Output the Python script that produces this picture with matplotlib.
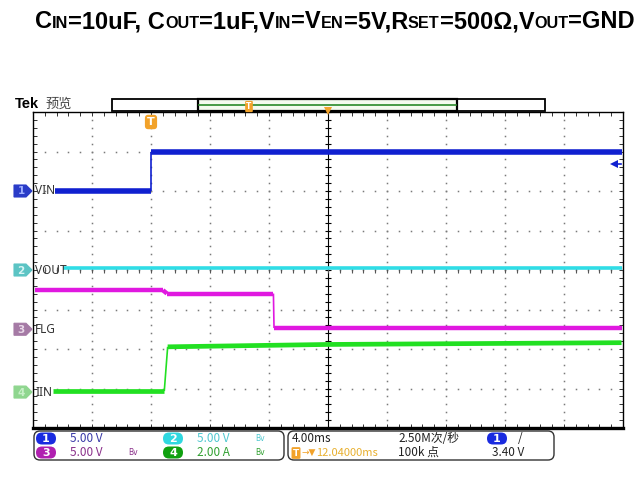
import matplotlib
matplotlib.use('Agg')
import matplotlib.pyplot as plt
import numpy as np
from matplotlib.patches import Polygon, FancyBboxPatch, Rectangle
from matplotlib.collections import LineCollection

plt.rcParams['font.family'] = ['DejaVu Sans', 'Noto Sans CJK SC']

# ---------------- data (time in ms relative to trigger) ----------------
vin_t = [-6.5, 0.0, 0.0, 31.9]
vin_v = [0.0, 0.0, 4.95, 4.95]
vout_t = [-6.0, 31.9]
vout_v = [0.2, 0.2]
flg_t = [-7.86, 0.81, 1.08, 8.30, 8.34, 31.9]
flg_v = [4.94, 4.94, 4.52, 4.52, 0.15, 0.15]
iin_t = [-6.64, 0.90, 1.13, 12.0, 31.9]
iin_a = [0.05, 0.05, 2.29, 2.41, 2.50]

channel_names = ['VIN', 'VOUT', 'FLG', 'IIN']
channel_nums = ['1', '2', '3', '4']
channel_scale = [5.0, 5.0, 5.0, 2.0]         # units per division
channel_offset = [2.0, 0.0, -1.5, -3.09]     # ground position in divisions
scale_labels = ['5.00 V', '5.00 V', '5.00 V', '2.00 A']
time_per_div = '4.00ms'
sample_rate = '2.50M次/秒'
record_len = '100k 点'
trig_delay = '12.04000ms'
trig_level = '3.40 V'

trace_colors = ['#1020d0', '#30dde6', '#e018e0', '#22e022']
trace_lw = [4.0, 2.6, 3.2, 3.4]
marker_colors = ['#2a3cc8', '#5cc4c4', '#a57aa5', '#8fd68f']
marker_txt = ['#9fb0ff', '#d8f4f4', '#e8d8e8', '#c8f0c8']
info_colors = ['#3a3aa8', '#50c8d0', '#8a308a', '#30a030']
info_badge = ['#1a2be0', '#30d8e0', '#b020b0', '#10a010']
ORANGE = '#f2a22a'
INFO_FONT = ['Noto Sans CJK SC', 'DejaVu Sans']

W, H = 642, 480
fig = plt.figure(figsize=(W / 100, H / 100), dpi=100)

# graticule in pixel space
L, R, T, B = 33, 623, 112, 428
ax = fig.add_axes([L / W, 1 - B / H, (R - L) / W, (B - T) / H])
ax.set_xlim(-8, 32)
ax.set_ylim(-4, 4)
ax.set_facecolor('white')

# dotted grid
minor_x = np.arange(-8, 32.01, 0.8)
minor_y = np.arange(-4, 4.01, 0.2)
for gx in np.arange(-4, 32, 4):
    if abs(gx - 12) < 1e-6:
        continue
    ax.plot(np.full_like(minor_y, gx), minor_y, ls='none', marker='s', ms=1.1,
            color='#7a7a7a', mew=0)
for gy in np.arange(-3, 4, 1):
    ax.plot(minor_x, np.full_like(minor_x, gy), ls='none', marker='s', ms=1.1,
            color='#7a7a7a', mew=0)
# center cross with ticks
ax.axvline(12, color='black', lw=0.8)
ax.plot(np.full_like(minor_y, 12), minor_y, ls='none', marker='_', ms=5,
        color='black', mew=0.8)
ax.plot(minor_x, np.zeros_like(minor_x), ls='none', marker='|', ms=5,
        color='#555555', mew=0.8)

ax.set_xticks(np.arange(-8, 33, 4))
ax.set_yticks(np.arange(-4, 5, 1))
ax.set_xticks(minor_x, minor=True)
ax.set_yticks(minor_y, minor=True)
ax.tick_params(which='both', direction='in', top=True, right=True,
               labelbottom=False, labelleft=False, length=3, width=0.7,
               color='#333333')
for s in ax.spines.values():
    s.set_color('black')
    s.set_linewidth(1.0)
ax.spines['bottom'].set_linewidth(2.4)

# traces
traces = [(vin_t, vin_v), (vout_t, vout_v), (flg_t, flg_v), (iin_t, iin_a)]
for k, (tt, vv) in enumerate(traces):
    tt = np.asarray(tt, float)
    yy = np.asarray(vv, float) / channel_scale[k] + channel_offset[k]
    segs, lws = [], []
    for i in range(len(tt) - 1):
        segs.append([(tt[i], yy[i]), (tt[i + 1], yy[i + 1])])
        dt = tt[i + 1] - tt[i]
        dy = abs(yy[i + 1] - yy[i])
        steep = dy > 0.3 and dt < 0.5
        lws.append(1.2 if steep else trace_lw[k])
    lc = LineCollection(segs, colors=trace_colors[k], linewidths=lws,
                        capstyle='butt', zorder=3)
    ax.add_collection(lc)

# overlay in pixel coordinates
ov = fig.add_axes([0, 0, 1, 1], zorder=5)
ov.set_xlim(0, W)
ov.set_ylim(H, 0)
ov.axis('off')
ov.patch.set_alpha(0)

# title
pieces = [("C", 0), ("IN", 1), ("=10uF, C", 0), ("OUT", 1), ("=1uF,V", 0),
          ("IN", 1), ("=V", 0), ("EN", 1), ("=5V,R", 0), ("SET", 1),
          ("=500Ω,V", 0), ("OUT", 1), ("=GND", 0)]
big, small = 16.0, 11.0
renderer = fig.canvas.get_renderer()
def draw_title(sc, x0):
    x = x0
    arts = []
    for txt, sub in pieces:
        t = ov.text(x, 28, txt, fontsize=(small if sub else big) * sc,
                    fontweight='bold', family='Liberation Sans',
                    va='baseline', ha='left', color='black')
        bb = t.get_window_extent(renderer)
        x += bb.width
        arts.append(t)
    return x - x0, arts
wid, arts = draw_title(1.0, 35)
for a in arts:
    a.remove()
sc = 597 / wid
draw_title(sc, 35)

# Tek header
ov.text(15, 104, 'Tek', fontsize=10.5, fontweight='bold', va='center',
        family='Liberation Sans', color='black')
ov.text(46, 104, '预览', fontsize=9.5, va='center', color='#444444',
        family=['Noto Sans CJK SC'])

# record view bar
ov.add_patch(Rectangle((112, 99), 433, 12, fill=False, ec='black', lw=1.3))
ov.add_patch(Rectangle((198, 99), 259, 12, fc='#f4fbf0', ec='black', lw=1.6))
ov.plot([199, 456], [105, 105], color='#2a8a2a', lw=1.2)
ov.text(249, 106.5, 'T', fontsize=5.5, color='white', ha='center', va='center',
        fontweight='bold',
        bbox=dict(boxstyle='round,pad=0.15', fc=ORANGE, ec='none'))
ov.plot([328], [111], marker='v', color=ORANGE, ms=6, mew=0)
# trigger position marker on graticule
ov.text(151, 122, 'T', fontsize=8, color='white', ha='center', va='center',
        fontweight='bold',
        bbox=dict(boxstyle='round,pad=0.2,rounding_size=0.3', fc=ORANGE,
                  ec='none'))
# trigger level arrow
ov.plot([614], [164], marker='<', color='#1020d0', ms=6, mew=0)
ov.plot([614, 621], [164, 164], color='#1020d0', lw=1.2)

# channel markers and labels
ground_px = [T + (4 - o) * (B - T) / 8 for o in channel_offset]
for k in range(4):
    y = ground_px[k]
    x0 = 14
    ov.add_patch(Polygon([(x0, y - 6), (x0 + 12, y - 6), (x0 + 18, y),
                          (x0 + 12, y + 6), (x0, y + 6)], closed=True,
                         fc=marker_colors[k], ec=marker_colors[k], lw=0.8))
    ov.text(x0 + 7, y + 0.5, channel_nums[k], fontsize=7.5, color=marker_txt[k],
            ha='center', va='center', fontweight='bold')
    ov.text(35, y, channel_names[k], fontsize=8.5, color='#333333',
            ha='left', va='center', family='Noto Sans')

# bottom info panels
ov.add_patch(FancyBboxPatch((34, 431), 250, 29,
                            boxstyle='round,pad=0,rounding_size=6',
                            fc='white', ec='#333333', lw=1.0))
ov.add_patch(FancyBboxPatch((288, 431), 266, 29,
                            boxstyle='round,pad=0,rounding_size=6',
                            fc='white', ec='#333333', lw=1.0))
rows = [438.5, 452.5]
pos = [(46, 0), (173, 0), (46, 1), (173, 1)]
FS = 8.5
for k in range(4):
    bx, r = pos[k]
    y = rows[r]
    ov.add_patch(FancyBboxPatch((bx - 10, y - 6), 20, 12,
                                boxstyle='round,pad=0,rounding_size=6',
                                fc=info_badge[k], ec='none'))
    ov.text(bx, y + 0.5, channel_nums[k], fontsize=8, color='white',
            ha='center', va='center', fontweight='bold')
    ov.text(bx + 24, y, scale_labels[k], fontsize=FS, color=info_colors[k],
            ha='left', va='center', family=INFO_FONT)
    if k != 0:
        ov.text(bx + 87, y, 'Bv', fontsize=5.5, color=info_colors[k],
                ha='center', va='center')

ov.text(292, rows[0], time_per_div, fontsize=FS, color='#222222', va='center',
        family=INFO_FONT)
ov.text(398, rows[0], sample_rate, fontsize=FS, color='#222222', va='center',
        family=INFO_FONT)
ov.add_patch(FancyBboxPatch((487, rows[0] - 6), 20, 12,
                            boxstyle='round,pad=0,rounding_size=6',
                            fc='#1a2be0', ec='none'))
ov.text(497, rows[0] + 0.5, '1', fontsize=8, color='white', ha='center',
        va='center', fontweight='bold')
ov.text(518, rows[0], '/', fontsize=FS, color='#222222', va='center',
        family=INFO_FONT)
ov.text(296, rows[1] + 0.5, 'T', fontsize=6.5, color='white', ha='center',
        va='center', fontweight='bold',
        bbox=dict(boxstyle='round,pad=0.15', fc=ORANGE, ec='none'))
ov.text(302, rows[1], '→▼', fontsize=6.5, color=ORANGE, va='center')
ov.text(316, rows[1], trig_delay, fontsize=8, color='#e8b030', va='center',
        family=INFO_FONT)
ov.text(398, rows[1], record_len, fontsize=FS, color='#222222', va='center',
        family=INFO_FONT)
ov.text(492, rows[1], trig_level, fontsize=FS, color='#222222', va='center',
        family=INFO_FONT)

fig.savefig('out.png', dpi=100)
